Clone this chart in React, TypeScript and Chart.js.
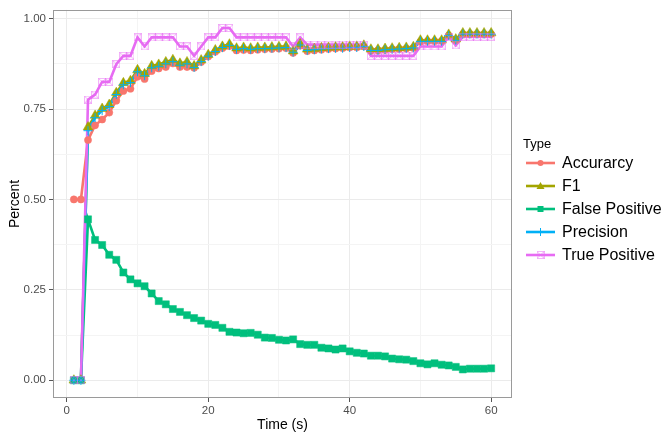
import React, { useEffect, useRef } from "react";
import { Chart, registerables } from "chart.js";

Chart.register(...registerables);

const times = Array.from({ length: 60 }, (_, i) => i + 1);

const accuracy = [
  0.5, 0.5, 0.664, 0.705, 0.721, 0.74, 0.773, 0.8, 0.806, 0.839,
  0.833, 0.855, 0.862, 0.866, 0.876, 0.866, 0.866, 0.864, 0.88, 0.895,
  0.908, 0.918, 0.924, 0.912, 0.913, 0.912, 0.914, 0.915, 0.916, 0.917,
  0.918, 0.905, 0.925, 0.91, 0.912, 0.914, 0.916, 0.917, 0.918, 0.92,
  0.92, 0.923, 0.911, 0.912, 0.913, 0.915, 0.916, 0.917, 0.919, 0.936,
  0.937, 0.937, 0.938, 0.953, 0.94, 0.957, 0.957, 0.957, 0.957, 0.957,
];

const f1 = [
  0, 0, 0.7, 0.732, 0.751, 0.762, 0.795, 0.822, 0.828, 0.858,
  0.847, 0.869, 0.873, 0.88, 0.886, 0.876, 0.88, 0.869, 0.885, 0.9,
  0.913, 0.923, 0.929, 0.918, 0.92, 0.918, 0.92, 0.92, 0.921, 0.922,
  0.923, 0.91, 0.93, 0.915, 0.917, 0.919, 0.92, 0.921, 0.921, 0.923,
  0.923, 0.926, 0.915, 0.915, 0.917, 0.918, 0.919, 0.92, 0.922, 0.94,
  0.94, 0.94, 0.94, 0.956, 0.943, 0.96, 0.96, 0.96, 0.96, 0.96,
];

const falsePositive = [
  0, 0, 0.445, 0.388, 0.374, 0.347, 0.333, 0.298, 0.279, 0.268,
  0.26, 0.24, 0.219, 0.21, 0.197, 0.189, 0.18, 0.172, 0.165, 0.156,
  0.153, 0.145, 0.134, 0.132, 0.13, 0.131, 0.126, 0.118, 0.117, 0.112,
  0.11, 0.113, 0.1, 0.098, 0.098, 0.09, 0.088, 0.085, 0.088, 0.08,
  0.076, 0.074, 0.068, 0.068, 0.066, 0.06, 0.058, 0.057, 0.053, 0.047,
  0.044, 0.047, 0.043, 0.041, 0.037, 0.03, 0.032, 0.032, 0.032, 0.033,
];

const precision = [
  0, 0, 0.69, 0.726, 0.746, 0.757, 0.79, 0.817, 0.823, 0.853,
  0.842, 0.864, 0.868, 0.875, 0.881, 0.871, 0.875, 0.865, 0.881, 0.896,
  0.909, 0.92, 0.926, 0.915, 0.917, 0.915, 0.917, 0.917, 0.918, 0.919,
  0.92, 0.907, 0.927, 0.912, 0.914, 0.916, 0.917, 0.918, 0.918, 0.92,
  0.92, 0.923, 0.912, 0.912, 0.914, 0.915, 0.916, 0.917, 0.919, 0.937,
  0.937, 0.937, 0.937, 0.953, 0.94, 0.957, 0.957, 0.957, 0.957, 0.957,
];

const truePositive = [
  0, 0, 0.776, 0.79, 0.825, 0.825, 0.874, 0.897, 0.897, 0.948,
  0.923, 0.948, 0.948, 0.948, 0.948, 0.923, 0.923, 0.897, 0.923, 0.948,
  0.948, 0.974, 0.974, 0.948, 0.948, 0.948, 0.948, 0.948, 0.948, 0.948,
  0.948, 0.923, 0.948, 0.928, 0.928, 0.928, 0.928, 0.928, 0.928, 0.928,
  0.928, 0.928, 0.897, 0.897, 0.897, 0.897, 0.897, 0.897, 0.897, 0.923,
  0.923, 0.923, 0.923, 0.95, 0.926, 0.95, 0.95, 0.95, 0.95, 0.95,
];

const seriesNames = ["Accurarcy", "F1", "False Positive", "Precision", "True Positive"];
const seriesColors = ["#F8766D", "#A3A500", "#00BF7D", "#00B0F6", "#E76BF3"];

const xMajor = [0, 20, 40, 60];
const xMinor = [10, 30, 50];
const yMajor = [0, 0.25, 0.5, 0.75, 1];
const yMinor = [0.125, 0.375, 0.625, 0.875];

const FONT = "'Liberation Sans', Arial, Helvetica, sans-serif";

function makeBoxCross(color: string, size: number) {
  const c = document.createElement("canvas");
  c.width = size;
  c.height = size;
  const g = c.getContext("2d")!;
  g.strokeStyle = color;
  g.globalAlpha = 0.5;
  g.lineWidth = 1;
  g.strokeRect(0.5, 0.5, size - 1, size - 1);
  g.beginPath();
  g.moveTo(0.5, 0.5);
  g.lineTo(size - 0.5, size - 0.5);
  g.moveTo(size - 0.5, 0.5);
  g.lineTo(0.5, size - 0.5);
  g.stroke();
  return c;
}

export default function App() {
  const ref = useRef<HTMLCanvasElement | null>(null);

  useEffect(() => {
    if (!ref.current) return;
    const all = [accuracy, f1, falsePositive, precision, truePositive];
    const boxCross = makeBoxCross(seriesColors[4], 8);
    const styles: any[] = [
      { pointStyle: "circle", pointRadius: 3.6 },
      { pointStyle: "triangle", pointRadius: 5.6 },
      { pointStyle: "rect", pointRadius: 5 },
      { pointStyle: "cross", pointRadius: 4.5 },
      { pointStyle: boxCross, pointRadius: 4 },
    ];
    const toXY = (arr: number[]) => arr.map((v, i) => ({ x: times[i], y: v }));

    const lineSets = all.map((arr, i) => ({
      label: seriesNames[i],
      data: toXY(arr),
      borderColor: seriesColors[i],
      backgroundColor: seriesColors[i],
      borderWidth: 2.6,
      pointRadius: 0,
      showLine: true,
      order: 10 - i,
    }));
    const pointSets = all.map((arr, i) => ({
      label: seriesNames[i] + " pts",
      data: toXY(arr),
      borderColor: seriesColors[i],
      backgroundColor: seriesColors[i],
      borderWidth: i === 3 ? 1 : 0.5,
      showLine: false,
      pointStyle: styles[i].pointStyle,
      pointRadius: styles[i].pointRadius,
      order: 5 - i,
    }));

    const isMinorX = (v: number) => xMinor.includes(v);
    const isMinorY = (v: number) => yMinor.some((m) => Math.abs(m - v) < 1e-9);

    const decor = {
      id: "decor",
      afterDraw(chart: any) {
        const { ctx, chartArea } = chart;
        ctx.save();
        ctx.strokeStyle = "#9a9a9a";
        ctx.lineWidth = 1;
        ctx.strokeRect(
          Math.round(chartArea.left) + 0.5,
          Math.round(chartArea.top) + 0.5,
          Math.round(chartArea.right - chartArea.left) - 1,
          Math.round(chartArea.bottom - chartArea.top) - 1
        );
        ctx.fillStyle = "#000";
        ctx.font = `14px ${FONT}`;
        ctx.textAlign = "center";
        ctx.textBaseline = "middle";
        ctx.fillText("Time (s)", (chartArea.left + chartArea.right) / 2, 425);
        ctx.save();
        ctx.translate(15, (chartArea.top + chartArea.bottom) / 2);
        ctx.rotate(-Math.PI / 2);
        ctx.fillText("Percent", 0, 0);
        ctx.restore();
        ctx.textAlign = "left";
        ctx.font = `13px ${FONT}`;
        ctx.fillText("Type", 523, 144);
        const rows = [163, 186, 209, 232, 255];
        seriesNames.forEach((name, i) => {
          const y = rows[i];
          ctx.strokeStyle = seriesColors[i];
          ctx.fillStyle = seriesColors[i];
          ctx.lineWidth = 2.6;
          ctx.beginPath();
          ctx.moveTo(526, y);
          ctx.lineTo(555, y);
          ctx.stroke();
          const cx = 540.5;
          ctx.lineWidth = 1;
          if (i === 0) {
            ctx.beginPath();
            ctx.arc(cx, y, 3, 0, Math.PI * 2);
            ctx.fill();
          } else if (i === 1) {
            ctx.beginPath();
            ctx.moveTo(cx, y - 4);
            ctx.lineTo(cx + 4, y + 3);
            ctx.lineTo(cx - 4, y + 3);
            ctx.closePath();
            ctx.fill();
          } else if (i === 2) {
            ctx.fillRect(cx - 3, y - 3, 6, 6);
          } else if (i === 3) {
            ctx.beginPath();
            ctx.moveTo(cx, y - 4);
            ctx.lineTo(cx, y + 4);
            ctx.stroke();
          } else {
            ctx.drawImage(boxCross, cx - 4, y - 4, 8, 8);
          }
          ctx.fillStyle = "#000";
          ctx.font = `16px ${FONT}`;
          ctx.textBaseline = "middle";
          ctx.fillText(name, 562, y + 1);
        });
        ctx.restore();
      },
    };

    const chart = new Chart(ref.current, {
      type: "scatter",
      data: { datasets: [...lineSets, ...pointSets] as any },
      options: {
        animation: false,
        responsive: false,
        devicePixelRatio: 1,
        layout: { padding: { top: 5, right: 155, left: 0, bottom: 0 } },
        plugins: { legend: { display: false }, tooltip: { enabled: false } },
        scales: {
          x: {
            type: "linear",
            min: -1.95,
            max: 62.95,
            afterBuildTicks: (s: any) => {
              s.ticks = [...xMajor, ...xMinor].sort((a, b) => a - b).map((v) => ({ value: v }));
            },
            afterFit: (s: any) => {
              s.height = 36;
            },
            ticks: {
              autoSkip: false,
              maxRotation: 0,
              padding: 2,
              color: "#4d4d4d",
              font: { family: FONT, size: 11.5 },
              callback: (v: any) => (isMinorX(v) ? "" : String(v)),
            },
            grid: {
              color: (c: any) => (isMinorX(c.tick.value) ? "#f4f4f4" : "#ebebeb"),
              tickColor: (c: any) => (isMinorX(c.tick.value) ? "rgba(0,0,0,0)" : "#555"),
              tickLength: 4,
              lineWidth: 1,
            },
            border: { display: false },
          },
          y: {
            type: "linear",
            min: -0.049,
            max: 1.024,
            afterBuildTicks: (s: any) => {
              s.ticks = [...yMajor, ...yMinor].sort((a, b) => a - b).map((v) => ({ value: v }));
            },
            afterFit: (s: any) => {
              s.width = 53;
            },
            ticks: {
              autoSkip: false,
              padding: 3,
              color: "#4d4d4d",
              font: { family: FONT, size: 11.5 },
              callback: (v: any) => (isMinorY(v) ? "" : Number(v).toFixed(2)),
            },
            grid: {
              color: (c: any) => (isMinorY(c.tick.value) ? "#f4f4f4" : "#ebebeb"),
              tickColor: (c: any) => (isMinorY(c.tick.value) ? "rgba(0,0,0,0)" : "#555"),
              tickLength: 4,
              lineWidth: 1,
            },
            border: { display: false },
          },
        },
      },
      plugins: [decor],
    } as any);
    return () => chart.destroy();
  }, []);

  return (
    <div style={{ position: "absolute", left: 0, top: 0, width: 667, height: 434, background: "#fff" }}>
      <canvas ref={ref} width={667} height={434} style={{ width: 667, height: 434, display: "block" }} />
    </div>
  );
}
